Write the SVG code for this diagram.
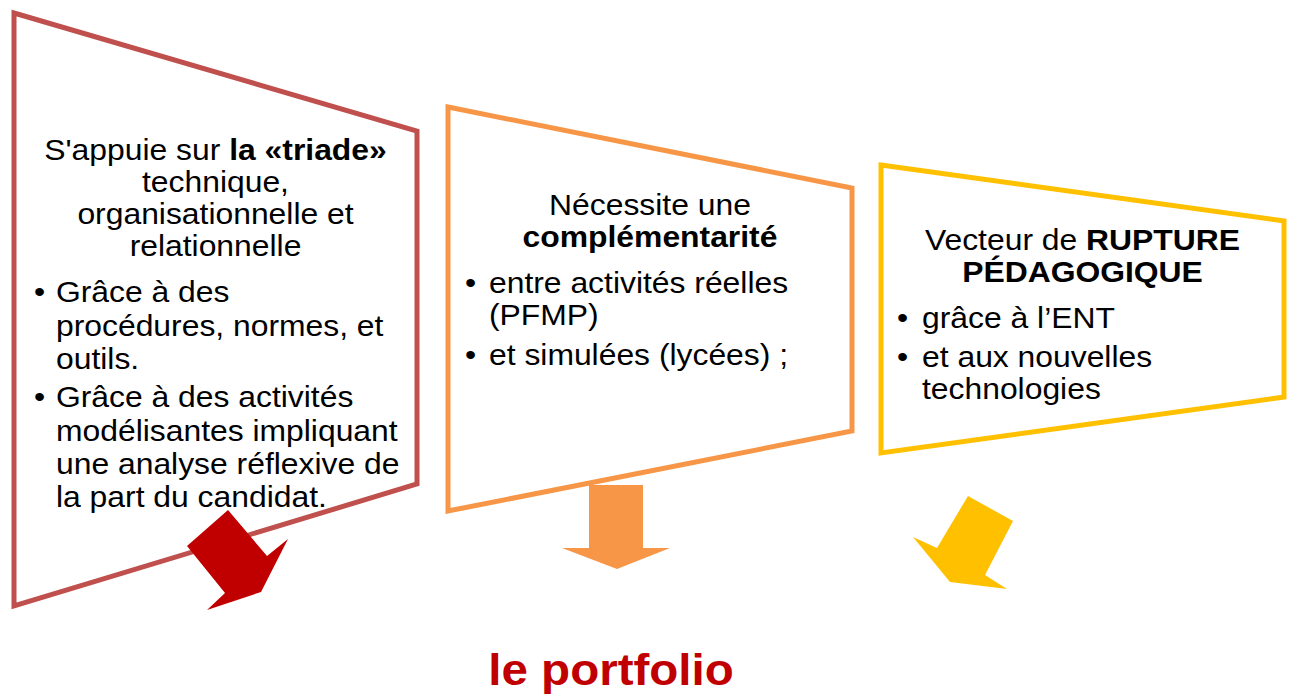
<svg xmlns="http://www.w3.org/2000/svg" width="1290" height="694" viewBox="0 0 1290 694">
<style>
  .box { fill: #FFFFFF; stroke-width: 5; stroke-linejoin: miter; }
  .t { font-family: "Liberation Sans", Arial, sans-serif; font-size: 29.5px; fill: #000000; }
  .c { text-anchor: middle; }
  .b { font-weight: bold; }
  .title { font-family: "Liberation Sans", Arial, sans-serif; font-size: 44px; font-weight: bold; fill: #C00000; text-anchor: middle; }
</style>
<rect width="1290" height="694" fill="#FFFFFF"/>

<g id="node-triade">
  <polygon class="box" stroke="#C0504D" points="14,13 417,131 417,484 14,606"/>
  <g transform="translate(215.5 0) scale(1.08 1)" class="t">
    <text class="t c" x="0" y="160">S'appuie sur <tspan class="b">la «triade»</tspan></text>
    <text class="t c" x="0" y="192">technique,</text>
    <text class="t c" x="0" y="224">organisationnelle et</text>
    <text class="t c" x="0" y="256">relationnelle</text>
    <text class="t" x="-168" y="302">•</text>
    <text class="t" x="-147.7" y="302">Grâce à des</text>
    <text class="t" x="-147.7" y="336">procédures, normes, et</text>
    <text class="t" x="-147.7" y="369">outils.</text>
    <text class="t" x="-168" y="407">•</text>
    <text class="t" x="-147.7" y="407">Grâce à des activités</text>
    <text class="t" x="-147.7" y="441">modélisantes impliquant</text>
    <text class="t" x="-147.7" y="474">une analyse réflexive de</text>
    <text class="t" x="-147.7" y="507">la part du candidat.</text>
  </g>
</g>

<g id="node-complementarite">
  <polygon class="box" stroke="#F79646" points="448,107 852,188 852,431 448,511"/>
  <g transform="translate(650 0) scale(1.08 1)">
    <text class="t c" x="0" y="215">Nécessite une</text>
    <text class="t c b" x="0" y="247">complémentarité</text>
    <text class="t" x="-171.3" y="293">•</text>
    <text class="t" x="-149.1" y="293">entre activités réelles</text>
    <text class="t" x="-149.1" y="325">(PFMP)</text>
    <text class="t" x="-171.3" y="365">•</text>
    <text class="t" x="-149.1" y="365">et simulées (lycées) ;</text>
  </g>
</g>

<g id="node-rupture">
  <polygon class="box" stroke="#FFC000" points="881,165 1284,221 1284,397 881,453"/>
  <g transform="translate(1082.5 0) scale(1.08 1)">
    <text class="t c" x="0" y="250">Vecteur de <tspan class="b">RUPTURE</tspan></text>
    <text class="t c b" x="0" y="282">PÉDAGOGIQUE</text>
    <text class="t" x="-171.8" y="328">•</text>
    <text class="t" x="-148.6" y="328">grâce à l’ENT</text>
    <text class="t" x="-171.8" y="367">•</text>
    <text class="t" x="-148.6" y="367">et aux nouvelles</text>
    <text class="t" x="-148.6" y="399">technologies</text>
  </g>
</g>

<g id="connectors">
  <polygon fill="#C00000" points="228,510 187,546 225,593 207,610 261,592 288,539 267,556"/>
  <polygon fill="#F79646" points="589,485 643,485 643,548 670,548 617,569 562,548 589,548"/>
  <polygon fill="#FFC000" points="968,496 1013,521 985,575 1007,589 950,582 913,537 937,548"/>
</g>

<g id="node-portfolio">
  <g transform="translate(611 0) scale(1.08 1)">
    <text class="title" x="0" y="685">le portfolio</text>
  </g>
</g>
</svg>
